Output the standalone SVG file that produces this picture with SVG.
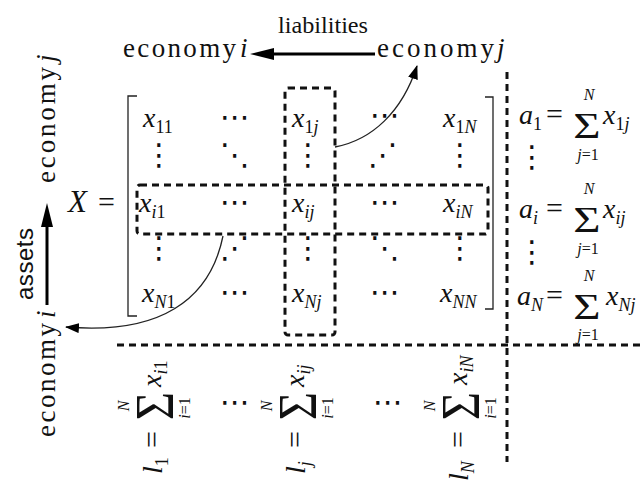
<svg xmlns="http://www.w3.org/2000/svg" width="640" height="485" viewBox="0 0 640 485" font-family="'Liberation Serif','Times New Roman','DejaVu Serif',serif">
<defs>
<style>
text{font-family:'Liberation Serif','Times New Roman','DejaVu Serif',serif;fill:#111}
.w{font-size:27px}
.m{font-size:28px;font-style:italic}
.up{font-style:normal}
.it{font-style:italic}
.s{font-size:18px}
.s2{font-size:16px}
.sig{font-size:36px}
.bsig{font-size:54px}
.eq{font-size:30px}
.sans{font-family:'Liberation Sans',Arial,sans-serif;font-size:24px}
.dots{font-family:'DejaVu Sans',sans-serif;font-size:30px;font-style:normal}
.dash{fill:none;stroke:#111;stroke-width:3;stroke-dasharray:7 5}
.thin{fill:none;stroke:#222;stroke-width:1.3}
.big{fill:none;stroke:#000;stroke-width:3}
</style>
<marker id="head" viewBox="0 0 24 12" refX="14" refY="6" markerWidth="24" markerHeight="12" markerUnits="userSpaceOnUse" orient="auto"><path d="M0,0 L24,6 L0,12 z" fill="#000"/></marker>
<marker id="small" viewBox="0 0 14 10" refX="13" refY="5" markerWidth="14" markerHeight="10" markerUnits="userSpaceOnUse" orient="auto"><path d="M0,0 L14,5 L0,10 z" fill="#000"/></marker>
</defs>
<rect width="640" height="485" fill="#fff"/>

<g id="top-labels">
<text class="w" x="278" y="33" style="font-size:24px" textLength="90" lengthAdjust="spacingAndGlyphs">liabilities</text>
<text class="w" x="123" y="57" textLength="113">economy</text>
<text class="w it" x="240" y="57">i</text>
<text class="w" x="377" y="57" textLength="117">economy</text>
<text class="w it" x="497" y="57">j</text>
</g>

<g id="left-labels">
<g transform="translate(55,183) rotate(-90)"><text class="w" x="0" y="0" textLength="116">economy</text><text class="w it" x="121" y="0">j</text></g>
<g transform="translate(55,437) rotate(-90)"><text class="w" x="0" y="0" textLength="114">economy</text><text class="w it" x="119" y="0">i</text></g>
<g transform="translate(33,300) rotate(-90)"><text class="sans" x="0" y="0" textLength="72">assets</text></g>
</g>

<g id="x-label">
<text class="m" x="68" y="212" style="font-size:31px">X</text>
<text class="eq" x="98" y="212">=</text>
</g>

<g id="matrix">
<path class="thin" d="M137,96 H128 V316 H137"/>
<path class="thin" d="M485,97 H493 V309 H485"/>
<text class="m" x="143" y="127">x<tspan class="s up" dy="6">11</tspan></text>
<text class="dots" x="235" y="127" text-anchor="middle">⋯</text>
<text class="m" x="292" y="127">x<tspan class="s up" dy="6">1</tspan><tspan class="s">j</tspan></text>
<text class="dots" x="385" y="125" text-anchor="middle">⋯</text>
<text class="m" x="443" y="127">x<tspan class="s up" dy="6">1</tspan><tspan class="s">N</tspan></text>

<text class="dots" x="159" y="165" text-anchor="middle">⋮</text>
<text class="dots" x="235" y="165" text-anchor="middle">⋱</text>
<text class="dots" x="308" y="165" text-anchor="middle">⋮</text>
<text class="dots" x="383" y="165" text-anchor="middle">⋰</text>
<text class="dots" x="460" y="165" text-anchor="middle">⋮</text>

<text class="m" x="139" y="212">x<tspan class="s" dy="6">i</tspan><tspan class="s up">1</tspan></text>
<text class="dots" x="235" y="212" text-anchor="middle">⋯</text>
<text class="m" x="292" y="212">x<tspan class="s" dy="6">ij</tspan></text>
<text class="dots" x="385" y="212" text-anchor="middle">⋯</text>
<text class="m" x="443" y="212">x<tspan class="s" dy="6">iN</tspan></text>

<text class="dots" x="159" y="258" text-anchor="middle">⋮</text>
<text class="dots" x="235" y="258" text-anchor="middle">⋰</text>
<text class="dots" x="308" y="258" text-anchor="middle">⋮</text>
<text class="dots" x="385" y="258" text-anchor="middle">⋱</text>
<text class="dots" x="460" y="258" text-anchor="middle">⋮</text>

<text class="m" x="142" y="302">x<tspan class="s" dy="6">N</tspan><tspan class="s up">1</tspan></text>
<text class="dots" x="235" y="302" text-anchor="middle">⋯</text>
<text class="m" x="292" y="302">x<tspan class="s" dy="6">Nj</tspan></text>
<text class="dots" x="385" y="302" text-anchor="middle">⋯</text>
<text class="m" x="440" y="302">x<tspan class="s" dy="6">NN</tspan></text>
</g>

<g id="column-box"><rect class="dash" x="285" y="88" width="50" height="247" rx="3"/></g>
<g id="row-box"><rect class="dash" x="137" y="185" width="351" height="49" rx="3"/></g>

<g id="separators">
<line class="dash" x1="507" y1="72" x2="507" y2="462"/>
<line class="dash" x1="117" y1="345" x2="640" y2="345"/>
</g>

<g id="row-sums">
<text class="m" x="519" y="124">a<tspan class="s up" dy="6">1</tspan></text>
<text class="eq" x="546" y="124">=</text>
<text class="sig" transform="translate(587,138) scale(1.3,1)" text-anchor="middle">Σ</text>
<text class="s2 it" x="589" y="100" text-anchor="middle">N</text>
<text class="s2" x="588" y="160" text-anchor="middle"><tspan class="it">j</tspan>=1</text>
<text class="m" x="603" y="124">x<tspan class="s up" dy="6">1</tspan><tspan class="s">j</tspan></text>
<text class="dots" x="532" y="167" text-anchor="middle">⋮</text>

<text class="m" x="519" y="218">a<tspan class="s" dy="6">i</tspan></text>
<text class="eq" x="546" y="218">=</text>
<text class="sig" transform="translate(587,232) scale(1.3,1)" text-anchor="middle">Σ</text>
<text class="s2 it" x="589" y="194" text-anchor="middle">N</text>
<text class="s2" x="588" y="254" text-anchor="middle"><tspan class="it">j</tspan>=1</text>
<text class="m" x="603" y="218">x<tspan class="s" dy="6">ij</tspan></text>
<text class="dots" x="532" y="262" text-anchor="middle">⋮</text>

<text class="m" x="517" y="305">a<tspan class="s" dy="6">N</tspan></text>
<text class="eq" x="546" y="305">=</text>
<text class="sig" transform="translate(587,319) scale(1.3,1)" text-anchor="middle">Σ</text>
<text class="s2 it" x="589" y="281" text-anchor="middle">N</text>
<text class="s2" x="588" y="340" text-anchor="middle"><tspan class="it">j</tspan>=1</text>
<text class="m" x="606" y="305">x<tspan class="s" dy="6">Nj</tspan></text>
</g>

<g id="column-sums">
<g transform="translate(162,480) rotate(-90)">
<text class="m" x="6" y="0">l<tspan class="s up" dy="6">1</tspan></text>
<text class="eq" x="32" y="0">=</text>
<text class="bsig" transform="translate(74,11) scale(0.9,1)" text-anchor="middle">Σ</text>
<text class="s2 it" x="74" y="-33" text-anchor="middle">N</text>
<text class="s2" x="72" y="28" text-anchor="middle"><tspan class="it">i</tspan>=1</text>
<text class="m" x="93" y="-1">x<tspan class="s" dy="6">i</tspan><tspan class="s up">1</tspan></text>
</g>
<text class="dots" x="235" y="412" text-anchor="middle">⋯</text>
<g transform="translate(305,480) rotate(-90)">
<text class="m" x="6" y="0">l<tspan class="s" dy="6">j</tspan></text>
<text class="eq" x="32" y="0">=</text>
<text class="bsig" transform="translate(74,11) scale(0.9,1)" text-anchor="middle">Σ</text>
<text class="s2 it" x="74" y="-33" text-anchor="middle">N</text>
<text class="s2" x="72" y="28" text-anchor="middle"><tspan class="it">i</tspan>=1</text>
<text class="m" x="93" y="-1">x<tspan class="s" dy="6">ij</tspan></text>
</g>
<text class="dots" x="388" y="412" text-anchor="middle">⋯</text>
<g transform="translate(468,484) rotate(-90)">
<text class="m" x="3" y="0">l<tspan class="s" dy="6">N</tspan></text>
<text class="eq" x="36" y="0">=</text>
<text class="bsig" transform="translate(78,11) scale(0.9,1)" text-anchor="middle">Σ</text>
<text class="s2 it" x="78" y="-33" text-anchor="middle">N</text>
<text class="s2" x="76" y="28" text-anchor="middle"><tspan class="it">i</tspan>=1</text>
<text class="m" x="99" y="-1">x<tspan class="s" dy="6">iN</tspan></text>
</g>
</g>

<g id="connectors">
<line class="big" x1="375" y1="54" x2="260" y2="54" marker-end="url(#head)"/>
<line class="big" x1="47" y1="305" x2="47" y2="213" marker-end="url(#head)"/>
<path class="thin" d="M335,147 C372,140 402,112 417,66" marker-end="url(#small)"/>
<path class="thin" d="M223,236 C210,300 160,335 66,327" marker-end="url(#small)"/>
</g>
</svg>
